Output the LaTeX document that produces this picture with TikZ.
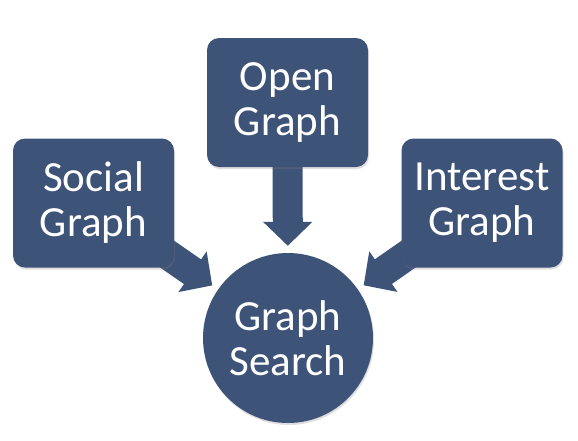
\documentclass[tikz,border=0pt]{standalone}
\usepackage{fontspec}
\setmainfont{Carlito}
\usetikzlibrary{arrows.meta,shadows}
\definecolor{gsblue}{RGB}{62,83,120}

\tikzset{
  box/.style={fill=gsblue, rounded corners=12pt, minimum width=161pt, minimum height=129pt,
    drop shadow={shadow xshift=1pt, shadow yshift=-2pt, opacity=0.25}},
  hub/.style={circle, fill=gsblue, minimum size=170pt,
    drop shadow={shadow xshift=1pt, shadow yshift=-2pt, opacity=0.25}},
  feed/.style={gsblue, line width=30pt, shorten >=7pt, -{Triangle[width=48pt, length=24pt]}}
}

\begin{document}
\begin{tikzpicture}[x=1pt, y=-1pt, every node/.style={text=white, align=center, font=\fontsize{43}{45}\selectfont}]
\useasboundingbox (0,0) rectangle (578,440);
\node[hub] (search) at (288,338) {Graph\\Search};
% arrows go under the boxes
\path (287.5,102.5) coordinate (o) (93.5,203) coordinate (s) (482,203) coordinate (i);
\draw[feed] (o) -- (search); \draw[feed] (s) -- (search); \draw[feed] (i) -- (search);
\node[box] (open) at (o) {Open\\Graph};
\node[box] (social) at (s) {Social\\Graph};
\node[box] (interest) at (i) {Interest\\Graph};
\end{tikzpicture}
\end{document}
